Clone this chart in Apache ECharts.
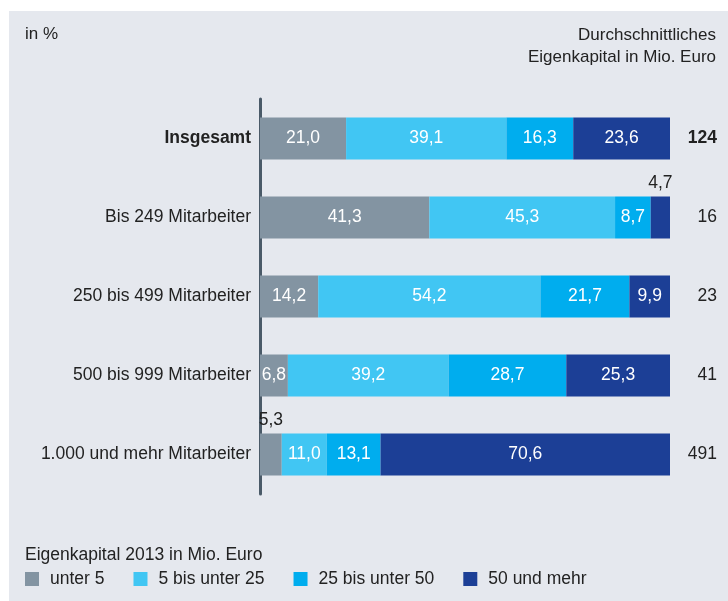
<!DOCTYPE html>
<html>
<head>
<meta charset="utf-8">
<script src="https://cdn.jsdelivr.net/npm/echarts@6/dist/echarts.min.js"></script>
<style>
  html, body { margin: 0; padding: 0; background: #ffffff; }
  #chart { width: 728px; height: 601px; }
</style>
</head>
<body>
<div id="chart"></div>
<script>
// categories (top to bottom)
const categories = ['Insgesamt', 'Bis 249 Mitarbeiter', '250 bis 499 Mitarbeiter', '500 bis 999 Mitarbeiter', '1.000 und mehr Mitarbeiter'];
// series values in %
const unter5 = [21.0, 41.3, 14.2, 6.8, 5.3];
const bis25 = [39.1, 45.3, 54.2, 39.2, 11.0];
const bis50 = [16.3, 8.7, 21.7, 28.7, 13.1];
const ab50 = [23.6, 4.7, 9.9, 25.3, 70.6];
// durchschnittliches Eigenkapital in Mio. Euro
const avgCapital = ['124', '16', '23', '41', '491'];
const seriesNames = ['unter 5', '5 bis unter 25', '25 bis unter 50', '50 und mehr'];
const colors = ['#8394a2', '#41c6f3', '#00adee', '#1c3f96'];

const FONT = '"Liberation Sans", Arial, sans-serif';
const FS = 17.5;

function fmt(v) {
    return v.toFixed(1).replace('.', ',');
}

function buildData(values) {
    return values.map((v) => {
        if (v < 6) {
            // zu klein: Beschriftung über dem Balken
            return { value: v, label: { position: 'top', distance: 4, color: '#222' } };
        }
        return { value: v };
    });
}

let chart = echarts.init(document.getElementById('chart'));

let series = [unter5, bis25, bis50, ab50].map((vals, i) => ({
    name: seriesNames[i],
    type: 'bar',
    stack: 'total',
    barWidth: 42,
    data: buildData(vals),
    itemStyle: { color: colors[i] },
    label: {
        show: true,
        position: 'inside',
        color: '#ffffff',
        fontSize: FS,
        fontFamily: FONT,
        formatter: (p) => fmt(p.value),
    },
    emphasis: { disabled: true },
}));

let option = {
    animation: false,
    backgroundColor: '#ffffff',
    textStyle: { fontFamily: FONT },
    graphic: [
        {
            type: 'rect',
            z: -10,
            shape: { x: 9, y: 11, width: 719, height: 590 },
            style: { fill: '#e5e8ee' },
        },
        {
            type: 'text', left: 25, top: 26,
            style: { text: 'in %', fill: '#222', font: '17px ' + FONT },
        },
        {
            type: 'text', right: 12, top: 27,
            style: { text: 'Durchschnittliches', font: '17px ' + FONT, fill: '#222' },
        },
        {
            type: 'text', right: 12, top: 49,
            style: { text: 'Eigenkapital in Mio. Euro', font: '17px ' + FONT, fill: '#222' },
        },
        {
            type: 'text', left: 25, top: 546,
            style: { text: 'Eigenkapital 2013 in Mio. Euro', font: FS + 'px ' + FONT, fill: '#222' },
        },
    ],
    legend: {
        left: 25,
        top: 570,
        padding: 0,
        itemWidth: 14,
        itemHeight: 14,
        itemGap: 29,
        icon: 'rect',
        selectedMode: false,
        textStyle: { fontSize: FS, color: '#222', fontFamily: FONT, padding: [0, 0, 0, 6] },
        data: seriesNames,
    },
    grid: {
        left: 260,
        right: 58,
        top: 99,
        height: 395,
    },
    xAxis: {
        type: 'value',
        min: 0,
        max: 100,
        show: false,
    },
    yAxis: [
        {
            type: 'category',
            data: categories,
            inverse: true,
            axisLine: { show: true, lineStyle: { color: '#4a5a68', width: 3 } },
            axisTick: { show: false },
            axisLabel: {
                margin: 9,
                fontSize: FS,
                color: '#222',
                fontFamily: FONT,
                formatter: (v, i) => (i === 0 ? '{b|' + v + '}' : v),
                rich: { b: { fontWeight: 'bold', fontSize: FS, color: '#222', fontFamily: FONT } },
            },
        },
        {
            type: 'category',
            data: categories,
            inverse: true,
            position: 'right',
            axisLine: { show: false },
            axisTick: { show: false },
            axisLabel: {
                margin: 47,
                align: 'right',
                fontSize: FS,
                color: '#222',
                fontFamily: FONT,
                formatter: (v, i) => (i === 0 ? '{b|' + avgCapital[i] + '}' : avgCapital[i]),
                rich: { b: { fontWeight: 'bold', fontSize: FS, color: '#222', fontFamily: FONT } },
            },
        },
    ],
    series: series,
};

chart.setOption(option);
</script>
</body>
</html>
